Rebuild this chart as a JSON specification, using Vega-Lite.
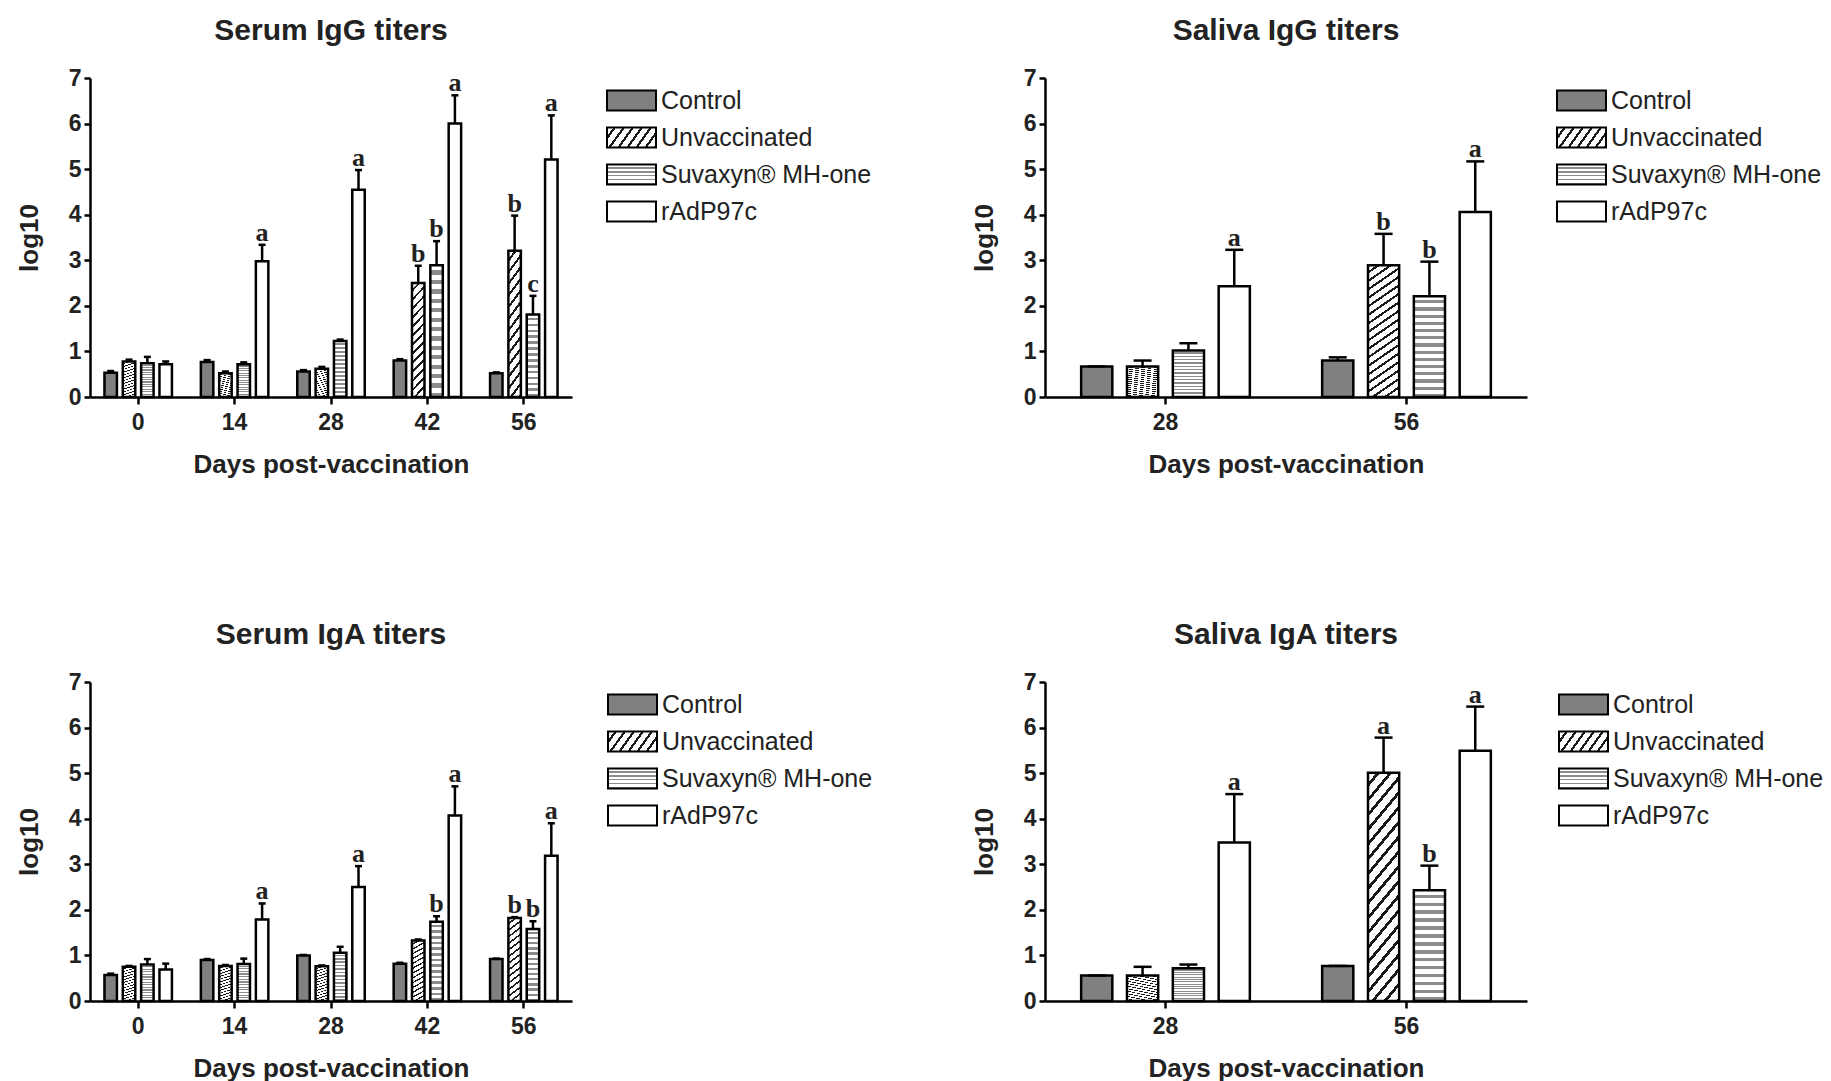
{
  "$schema": "https://vega.github.io/schema/vega-lite/v6.json",
  "background": "white",
  "padding": {"left": 16, "top": 16, "right": 5, "bottom": 5},
  "params": [
    {"name": "unvNarrow", "expr": "{gradient:'linear',x1:0,y1:0,x2:0.127,y2:1.1,stops:[{offset:0,color:'#fff'},{offset:0.05,color:'#fff'},{offset:0.05,color:'#1a1a1a'},{offset:0.0714,color:'#1a1a1a'},{offset:0.0714,color:'#fff'},{offset:0.1214,color:'#fff'},{offset:0.1214,color:'#1a1a1a'},{offset:0.1429,color:'#1a1a1a'},{offset:0.1429,color:'#fff'},{offset:0.1929,color:'#fff'},{offset:0.1929,color:'#1a1a1a'},{offset:0.2143,color:'#1a1a1a'},{offset:0.2143,color:'#fff'},{offset:0.2643,color:'#fff'},{offset:0.2643,color:'#1a1a1a'},{offset:0.2857,color:'#1a1a1a'},{offset:0.2857,color:'#fff'},{offset:0.3357,color:'#fff'},{offset:0.3357,color:'#1a1a1a'},{offset:0.3571,color:'#1a1a1a'},{offset:0.3571,color:'#fff'},{offset:0.4071,color:'#fff'},{offset:0.4071,color:'#1a1a1a'},{offset:0.4286,color:'#1a1a1a'},{offset:0.4286,color:'#fff'},{offset:0.4786,color:'#fff'},{offset:0.4786,color:'#1a1a1a'},{offset:0.5,color:'#1a1a1a'},{offset:0.5,color:'#fff'},{offset:0.55,color:'#fff'},{offset:0.55,color:'#1a1a1a'},{offset:0.5714,color:'#1a1a1a'},{offset:0.5714,color:'#fff'},{offset:0.6214,color:'#fff'},{offset:0.6214,color:'#1a1a1a'},{offset:0.6429,color:'#1a1a1a'},{offset:0.6429,color:'#fff'},{offset:0.6929,color:'#fff'},{offset:0.6929,color:'#1a1a1a'},{offset:0.7143,color:'#1a1a1a'},{offset:0.7143,color:'#fff'},{offset:0.7643,color:'#fff'},{offset:0.7643,color:'#1a1a1a'},{offset:0.7857,color:'#1a1a1a'},{offset:0.7857,color:'#fff'},{offset:0.8357,color:'#fff'},{offset:0.8357,color:'#1a1a1a'},{offset:0.8571,color:'#1a1a1a'},{offset:0.8571,color:'#fff'},{offset:0.9071,color:'#fff'},{offset:0.9071,color:'#1a1a1a'},{offset:0.9286,color:'#1a1a1a'},{offset:0.9286,color:'#fff'},{offset:0.9786,color:'#fff'},{offset:0.9786,color:'#1a1a1a'},{offset:1,color:'#1a1a1a'}]}"},
    {"name": "unvWide", "expr": "{gradient:'linear',x1:0,y1:0,x2:0.185,y2:1.133,stops:[{offset:0,color:'#fff'},{offset:0.0389,color:'#fff'},{offset:0.0389,color:'#1a1a1a'},{offset:0.0556,color:'#1a1a1a'},{offset:0.0556,color:'#fff'},{offset:0.0944,color:'#fff'},{offset:0.0944,color:'#1a1a1a'},{offset:0.1111,color:'#1a1a1a'},{offset:0.1111,color:'#fff'},{offset:0.15,color:'#fff'},{offset:0.15,color:'#1a1a1a'},{offset:0.1667,color:'#1a1a1a'},{offset:0.1667,color:'#fff'},{offset:0.2056,color:'#fff'},{offset:0.2056,color:'#1a1a1a'},{offset:0.2222,color:'#1a1a1a'},{offset:0.2222,color:'#fff'},{offset:0.2611,color:'#fff'},{offset:0.2611,color:'#1a1a1a'},{offset:0.2778,color:'#1a1a1a'},{offset:0.2778,color:'#fff'},{offset:0.3167,color:'#fff'},{offset:0.3167,color:'#1a1a1a'},{offset:0.3333,color:'#1a1a1a'},{offset:0.3333,color:'#fff'},{offset:0.3722,color:'#fff'},{offset:0.3722,color:'#1a1a1a'},{offset:0.3889,color:'#1a1a1a'},{offset:0.3889,color:'#fff'},{offset:0.4278,color:'#fff'},{offset:0.4278,color:'#1a1a1a'},{offset:0.4444,color:'#1a1a1a'},{offset:0.4444,color:'#fff'},{offset:0.4833,color:'#fff'},{offset:0.4833,color:'#1a1a1a'},{offset:0.5,color:'#1a1a1a'},{offset:0.5,color:'#fff'},{offset:0.5389,color:'#fff'},{offset:0.5389,color:'#1a1a1a'},{offset:0.5556,color:'#1a1a1a'},{offset:0.5556,color:'#fff'},{offset:0.5944,color:'#fff'},{offset:0.5944,color:'#1a1a1a'},{offset:0.6111,color:'#1a1a1a'},{offset:0.6111,color:'#fff'},{offset:0.65,color:'#fff'},{offset:0.65,color:'#1a1a1a'},{offset:0.6667,color:'#1a1a1a'},{offset:0.6667,color:'#fff'},{offset:0.7056,color:'#fff'},{offset:0.7056,color:'#1a1a1a'},{offset:0.7222,color:'#1a1a1a'},{offset:0.7222,color:'#fff'},{offset:0.7611,color:'#fff'},{offset:0.7611,color:'#1a1a1a'},{offset:0.7778,color:'#1a1a1a'},{offset:0.7778,color:'#fff'},{offset:0.8167,color:'#fff'},{offset:0.8167,color:'#1a1a1a'},{offset:0.8333,color:'#1a1a1a'},{offset:0.8333,color:'#fff'},{offset:0.8722,color:'#fff'},{offset:0.8722,color:'#1a1a1a'},{offset:0.8889,color:'#1a1a1a'},{offset:0.8889,color:'#fff'},{offset:0.9278,color:'#fff'},{offset:0.9278,color:'#1a1a1a'},{offset:0.9444,color:'#1a1a1a'},{offset:0.9444,color:'#fff'},{offset:0.9833,color:'#fff'},{offset:0.9833,color:'#1a1a1a'},{offset:1,color:'#1a1a1a'}]}"},
    {"name": "suvFill", "expr": "{gradient:'linear',x1:0,y1:0,x2:0,y2:1,stops:[{offset:0,color:'#fff'},{offset:0.0393,color:'#fff'},{offset:0.0393,color:'#8c8c8c'},{offset:0.0714,color:'#8c8c8c'},{offset:0.0714,color:'#fff'},{offset:0.1107,color:'#fff'},{offset:0.1107,color:'#8c8c8c'},{offset:0.1429,color:'#8c8c8c'},{offset:0.1429,color:'#fff'},{offset:0.1821,color:'#fff'},{offset:0.1821,color:'#8c8c8c'},{offset:0.2143,color:'#8c8c8c'},{offset:0.2143,color:'#fff'},{offset:0.2536,color:'#fff'},{offset:0.2536,color:'#8c8c8c'},{offset:0.2857,color:'#8c8c8c'},{offset:0.2857,color:'#fff'},{offset:0.325,color:'#fff'},{offset:0.325,color:'#8c8c8c'},{offset:0.3571,color:'#8c8c8c'},{offset:0.3571,color:'#fff'},{offset:0.3964,color:'#fff'},{offset:0.3964,color:'#8c8c8c'},{offset:0.4286,color:'#8c8c8c'},{offset:0.4286,color:'#fff'},{offset:0.4679,color:'#fff'},{offset:0.4679,color:'#8c8c8c'},{offset:0.5,color:'#8c8c8c'},{offset:0.5,color:'#fff'},{offset:0.5393,color:'#fff'},{offset:0.5393,color:'#8c8c8c'},{offset:0.5714,color:'#8c8c8c'},{offset:0.5714,color:'#fff'},{offset:0.6107,color:'#fff'},{offset:0.6107,color:'#8c8c8c'},{offset:0.6429,color:'#8c8c8c'},{offset:0.6429,color:'#fff'},{offset:0.6821,color:'#fff'},{offset:0.6821,color:'#8c8c8c'},{offset:0.7143,color:'#8c8c8c'},{offset:0.7143,color:'#fff'},{offset:0.7536,color:'#fff'},{offset:0.7536,color:'#8c8c8c'},{offset:0.7857,color:'#8c8c8c'},{offset:0.7857,color:'#fff'},{offset:0.825,color:'#fff'},{offset:0.825,color:'#8c8c8c'},{offset:0.8571,color:'#8c8c8c'},{offset:0.8571,color:'#fff'},{offset:0.8964,color:'#fff'},{offset:0.8964,color:'#8c8c8c'},{offset:0.9286,color:'#8c8c8c'},{offset:0.9286,color:'#fff'},{offset:0.9679,color:'#fff'},{offset:0.9679,color:'#8c8c8c'},{offset:1,color:'#8c8c8c'}]}"},
    {"name": "legUnv", "expr": "{gradient:'linear',x1:0,y1:0,x2:1.19,y2:0.347,stops:[{offset:0,color:'#fff'},{offset:0.1,color:'#fff'},{offset:0.1,color:'#1a1a1a'},{offset:0.1429,color:'#1a1a1a'},{offset:0.1429,color:'#fff'},{offset:0.2429,color:'#fff'},{offset:0.2429,color:'#1a1a1a'},{offset:0.2857,color:'#1a1a1a'},{offset:0.2857,color:'#fff'},{offset:0.3857,color:'#fff'},{offset:0.3857,color:'#1a1a1a'},{offset:0.4286,color:'#1a1a1a'},{offset:0.4286,color:'#fff'},{offset:0.5286,color:'#fff'},{offset:0.5286,color:'#1a1a1a'},{offset:0.5714,color:'#1a1a1a'},{offset:0.5714,color:'#fff'},{offset:0.6714,color:'#fff'},{offset:0.6714,color:'#1a1a1a'},{offset:0.7143,color:'#1a1a1a'},{offset:0.7143,color:'#fff'},{offset:0.8143,color:'#fff'},{offset:0.8143,color:'#1a1a1a'},{offset:0.8571,color:'#1a1a1a'},{offset:0.8571,color:'#fff'},{offset:0.9571,color:'#fff'},{offset:0.9571,color:'#1a1a1a'},{offset:1,color:'#1a1a1a'}]}"},
    {"name": "suvLeg", "expr": "{gradient:'linear',x1:0,y1:0,x2:0,y2:1,stops:[{offset:0,color:'#fff'},{offset:0.11,color:'#fff'},{offset:0.11,color:'#8c8c8c'},{offset:0.2,color:'#8c8c8c'},{offset:0.2,color:'#fff'},{offset:0.31,color:'#fff'},{offset:0.31,color:'#8c8c8c'},{offset:0.4,color:'#8c8c8c'},{offset:0.4,color:'#fff'},{offset:0.51,color:'#fff'},{offset:0.51,color:'#8c8c8c'},{offset:0.6,color:'#8c8c8c'},{offset:0.6,color:'#fff'},{offset:0.71,color:'#fff'},{offset:0.71,color:'#8c8c8c'},{offset:0.8,color:'#8c8c8c'},{offset:0.8,color:'#fff'},{offset:0.91,color:'#fff'},{offset:0.91,color:'#8c8c8c'},{offset:1,color:'#8c8c8c'}]}"}
  ],
  "data": {"values": [
    {"panel": "Serum IgG", "day": "0", "group": "Control", "value": 0.53, "upper": 0.57, "letter": ""},
    {"panel": "Serum IgG", "day": "0", "group": "Unvaccinated", "value": 0.78, "upper": 0.82, "letter": ""},
    {"panel": "Serum IgG", "day": "0", "group": "Suvaxyn® MH-one", "value": 0.74, "upper": 0.88, "letter": ""},
    {"panel": "Serum IgG", "day": "0", "group": "rAdP97c", "value": 0.72, "upper": 0.78, "letter": ""},
    {"panel": "Serum IgG", "day": "14", "group": "Control", "value": 0.77, "upper": 0.81, "letter": ""},
    {"panel": "Serum IgG", "day": "14", "group": "Unvaccinated", "value": 0.52, "upper": 0.56, "letter": ""},
    {"panel": "Serum IgG", "day": "14", "group": "Suvaxyn® MH-one", "value": 0.72, "upper": 0.76, "letter": ""},
    {"panel": "Serum IgG", "day": "14", "group": "rAdP97c", "value": 2.98, "upper": 3.34, "letter": "a"},
    {"panel": "Serum IgG", "day": "28", "group": "Control", "value": 0.56, "upper": 0.59, "letter": ""},
    {"panel": "Serum IgG", "day": "28", "group": "Unvaccinated", "value": 0.62, "upper": 0.66, "letter": ""},
    {"panel": "Serum IgG", "day": "28", "group": "Suvaxyn® MH-one", "value": 1.23, "upper": 1.26, "letter": ""},
    {"panel": "Serum IgG", "day": "28", "group": "rAdP97c", "value": 4.55, "upper": 4.98, "letter": "a"},
    {"panel": "Serum IgG", "day": "42", "group": "Control", "value": 0.8, "upper": 0.83, "letter": ""},
    {"panel": "Serum IgG", "day": "42", "group": "Unvaccinated", "value": 2.5, "upper": 2.88, "letter": "b"},
    {"panel": "Serum IgG", "day": "42", "group": "Suvaxyn® MH-one", "value": 2.89, "upper": 3.42, "letter": "b"},
    {"panel": "Serum IgG", "day": "42", "group": "rAdP97c", "value": 6.0, "upper": 6.62, "letter": "a"},
    {"panel": "Serum IgG", "day": "56", "group": "Control", "value": 0.52, "upper": 0.54, "letter": ""},
    {"panel": "Serum IgG", "day": "56", "group": "Unvaccinated", "value": 3.21, "upper": 3.98, "letter": "b"},
    {"panel": "Serum IgG", "day": "56", "group": "Suvaxyn® MH-one", "value": 1.81, "upper": 2.22, "letter": "c"},
    {"panel": "Serum IgG", "day": "56", "group": "rAdP97c", "value": 5.21, "upper": 6.18, "letter": "a"},
    {"panel": "Saliva IgG", "day": "28", "group": "Control", "value": 0.67, "upper": 0.67, "letter": ""},
    {"panel": "Saliva IgG", "day": "28", "group": "Unvaccinated", "value": 0.67, "upper": 0.8, "letter": ""},
    {"panel": "Saliva IgG", "day": "28", "group": "Suvaxyn® MH-one", "value": 1.02, "upper": 1.18, "letter": ""},
    {"panel": "Saliva IgG", "day": "28", "group": "rAdP97c", "value": 2.43, "upper": 3.23, "letter": "a"},
    {"panel": "Saliva IgG", "day": "56", "group": "Control", "value": 0.8, "upper": 0.87, "letter": ""},
    {"panel": "Saliva IgG", "day": "56", "group": "Unvaccinated", "value": 2.89, "upper": 3.58, "letter": "b"},
    {"panel": "Saliva IgG", "day": "56", "group": "Suvaxyn® MH-one", "value": 2.21, "upper": 2.97, "letter": "b"},
    {"panel": "Saliva IgG", "day": "56", "group": "rAdP97c", "value": 4.06, "upper": 5.17, "letter": "a"},
    {"panel": "Serum IgA", "day": "0", "group": "Control", "value": 0.57, "upper": 0.6, "letter": ""},
    {"panel": "Serum IgA", "day": "0", "group": "Unvaccinated", "value": 0.75, "upper": 0.77, "letter": ""},
    {"panel": "Serum IgA", "day": "0", "group": "Suvaxyn® MH-one", "value": 0.8, "upper": 0.92, "letter": ""},
    {"panel": "Serum IgA", "day": "0", "group": "rAdP97c", "value": 0.69, "upper": 0.82, "letter": ""},
    {"panel": "Serum IgA", "day": "14", "group": "Control", "value": 0.9, "upper": 0.92, "letter": ""},
    {"panel": "Serum IgA", "day": "14", "group": "Unvaccinated", "value": 0.77, "upper": 0.79, "letter": ""},
    {"panel": "Serum IgA", "day": "14", "group": "Suvaxyn® MH-one", "value": 0.81, "upper": 0.93, "letter": ""},
    {"panel": "Serum IgA", "day": "14", "group": "rAdP97c", "value": 1.79, "upper": 2.14, "letter": "a"},
    {"panel": "Serum IgA", "day": "28", "group": "Control", "value": 1.0, "upper": 1.01, "letter": ""},
    {"panel": "Serum IgA", "day": "28", "group": "Unvaccinated", "value": 0.76, "upper": 0.78, "letter": ""},
    {"panel": "Serum IgA", "day": "28", "group": "Suvaxyn® MH-one", "value": 1.06, "upper": 1.19, "letter": ""},
    {"panel": "Serum IgA", "day": "28", "group": "rAdP97c", "value": 2.5, "upper": 2.96, "letter": "a"},
    {"panel": "Serum IgA", "day": "42", "group": "Control", "value": 0.82, "upper": 0.84, "letter": ""},
    {"panel": "Serum IgA", "day": "42", "group": "Unvaccinated", "value": 1.33, "upper": 1.35, "letter": ""},
    {"panel": "Serum IgA", "day": "42", "group": "Suvaxyn® MH-one", "value": 1.74, "upper": 1.86, "letter": "b"},
    {"panel": "Serum IgA", "day": "42", "group": "rAdP97c", "value": 4.07, "upper": 4.71, "letter": "a"},
    {"panel": "Serum IgA", "day": "56", "group": "Control", "value": 0.92, "upper": 0.93, "letter": ""},
    {"panel": "Serum IgA", "day": "56", "group": "Unvaccinated", "value": 1.82, "upper": 1.84, "letter": "b"},
    {"panel": "Serum IgA", "day": "56", "group": "Suvaxyn® MH-one", "value": 1.58, "upper": 1.75, "letter": "b"},
    {"panel": "Serum IgA", "day": "56", "group": "rAdP97c", "value": 3.19, "upper": 3.9, "letter": "a"},
    {"panel": "Saliva IgA", "day": "28", "group": "Control", "value": 0.56, "upper": 0.56, "letter": ""},
    {"panel": "Saliva IgA", "day": "28", "group": "Unvaccinated", "value": 0.56, "upper": 0.75, "letter": ""},
    {"panel": "Saliva IgA", "day": "28", "group": "Suvaxyn® MH-one", "value": 0.72, "upper": 0.8, "letter": ""},
    {"panel": "Saliva IgA", "day": "28", "group": "rAdP97c", "value": 3.48, "upper": 4.54, "letter": "a"},
    {"panel": "Saliva IgA", "day": "56", "group": "Control", "value": 0.77, "upper": 0.77, "letter": ""},
    {"panel": "Saliva IgA", "day": "56", "group": "Unvaccinated", "value": 5.01, "upper": 5.78, "letter": "a"},
    {"panel": "Saliva IgA", "day": "56", "group": "Suvaxyn® MH-one", "value": 2.43, "upper": 2.97, "letter": "b"},
    {"panel": "Saliva IgA", "day": "56", "group": "rAdP97c", "value": 5.49, "upper": 6.46, "letter": "a"}
  ]},
  "columns": 2,
  "spacing": {"row": 143, "column": 94},
  "resolve": {
    "scale": {"x": "independent", "y": "independent", "xOffset": "independent", "fill": "independent"},
    "legend": {"fill": "independent"}
  },
  "concat": [
    {
      "width": 482, "height": 319,
      "title": "Serum IgG titers",
      "transform": [{"filter": "datum.panel === 'Serum IgG'"}],
      "resolve": {"scale": {"fill": "independent"}, "legend": {"fill": "independent"}},
      "encoding": {
        "x": {"field": "day", "type": "ordinal", "sort": ["0", "14", "28", "42", "56"], "title": "Days post-vaccination", "scale": {"paddingInner": 0.3, "paddingOuter": 0.15}},
        "xOffset": {"field": "group", "type": "nominal", "scale": {"domain": ["Control", "Unvaccinated", "Suvaxyn® MH-one", "rAdP97c"], "paddingInner": 0.32, "paddingOuter": 0}}
      },
      "layer": [
        {"mark": {"type": "bar", "stroke": "black", "strokeWidth": 2.5, "opacity": 1},
         "encoding": {
           "y": {"field": "value", "type": "quantitative", "title": "log10", "scale": {"domain": [0, 7], "nice": false}, "axis": {"values": [0, 1, 2, 3, 4, 5, 6, 7]}},
           "fill": {"field": "group", "type": "nominal", "legend": null,
             "scale": {"domain": ["Control", "Unvaccinated", "Suvaxyn® MH-one", "rAdP97c"], "range": ["#808080", {"expr": "unvNarrow"}, {"expr": "suvFill"}, "#ffffff"]}}
         }},
        {"transform": [{"filter": "false"}],
         "mark": {"type": "bar", "stroke": "black", "strokeWidth": 2, "opacity": 1},
         "encoding": {
           "fill": {"field": "group", "type": "nominal", "legend": {"title": null, "offset": 37},
             "scale": {"domain": ["Control", "Unvaccinated", "Suvaxyn® MH-one", "rAdP97c"], "range": ["#808080", {"expr": "legUnv"}, {"expr": "suvLeg"}, "#ffffff"]}}
         }},
        {"mark": {"type": "rule", "color": "black", "strokeWidth": 2.5, "opacity": 1},
         "encoding": {"y": {"field": "value", "type": "quantitative", "title": "log10"}, "y2": {"field": "upper"}}},
        {"mark": {"type": "tick", "orient": "horizontal", "color": "black", "size": 7, "thickness": 2.5, "opacity": 1},
         "encoding": {"y": {"field": "upper", "type": "quantitative", "title": "log10"}}},
        {"mark": {"type": "text", "font": "Liberation Serif", "fontWeight": "bold", "fontSize": 26, "baseline": "alphabetic", "dy": -4, "color": "#222"},
         "encoding": {"y": {"field": "upper", "type": "quantitative", "title": "log10"}, "text": {"field": "letter"}}}
      ]
    },
    {
      "width": 482, "height": 319,
      "title": "Saliva IgG titers",
      "transform": [{"filter": "datum.panel === 'Saliva IgG'"}],
      "resolve": {"scale": {"fill": "independent"}, "legend": {"fill": "independent"}},
      "encoding": {
        "x": {"field": "day", "type": "ordinal", "sort": ["28", "56"], "title": "Days post-vaccination", "scale": {"paddingInner": 0.3, "paddingOuter": 0.15}},
        "xOffset": {"field": "group", "type": "nominal", "scale": {"domain": ["Control", "Unvaccinated", "Suvaxyn® MH-one", "rAdP97c"], "paddingInner": 0.32, "paddingOuter": 0}}
      },
      "layer": [
        {"mark": {"type": "bar", "stroke": "black", "strokeWidth": 2.5, "opacity": 1},
         "encoding": {
           "y": {"field": "value", "type": "quantitative", "title": "log10", "scale": {"domain": [0, 7], "nice": false}, "axis": {"values": [0, 1, 2, 3, 4, 5, 6, 7]}},
           "fill": {"field": "group", "type": "nominal", "legend": null,
             "scale": {"domain": ["Control", "Unvaccinated", "Suvaxyn® MH-one", "rAdP97c"], "range": ["#808080", {"expr": "unvWide"}, {"expr": "suvFill"}, "#ffffff"]}}
         }},
        {"transform": [{"filter": "false"}],
         "mark": {"type": "bar", "stroke": "black", "strokeWidth": 2, "opacity": 1},
         "encoding": {
           "fill": {"field": "group", "type": "nominal", "legend": {"title": null, "offset": 32},
             "scale": {"domain": ["Control", "Unvaccinated", "Suvaxyn® MH-one", "rAdP97c"], "range": ["#808080", {"expr": "legUnv"}, {"expr": "suvLeg"}, "#ffffff"]}}
         }},
        {"mark": {"type": "rule", "color": "black", "strokeWidth": 2.5, "opacity": 1},
         "encoding": {"y": {"field": "value", "type": "quantitative", "title": "log10"}, "y2": {"field": "upper"}}},
        {"mark": {"type": "tick", "orient": "horizontal", "color": "black", "size": 18, "thickness": 2.5, "opacity": 1},
         "encoding": {"y": {"field": "upper", "type": "quantitative", "title": "log10"}}},
        {"mark": {"type": "text", "font": "Liberation Serif", "fontWeight": "bold", "fontSize": 26, "baseline": "alphabetic", "dy": -4, "color": "#222"},
         "encoding": {"y": {"field": "upper", "type": "quantitative", "title": "log10"}, "text": {"field": "letter"}}}
      ]
    },
    {
      "width": 482, "height": 319,
      "title": "Serum IgA titers",
      "transform": [{"filter": "datum.panel === 'Serum IgA'"}],
      "resolve": {"scale": {"fill": "independent"}, "legend": {"fill": "independent"}},
      "encoding": {
        "x": {"field": "day", "type": "ordinal", "sort": ["0", "14", "28", "42", "56"], "title": "Days post-vaccination", "scale": {"paddingInner": 0.3, "paddingOuter": 0.15}},
        "xOffset": {"field": "group", "type": "nominal", "scale": {"domain": ["Control", "Unvaccinated", "Suvaxyn® MH-one", "rAdP97c"], "paddingInner": 0.32, "paddingOuter": 0}}
      },
      "layer": [
        {"mark": {"type": "bar", "stroke": "black", "strokeWidth": 2.5, "opacity": 1},
         "encoding": {
           "y": {"field": "value", "type": "quantitative", "title": "log10", "scale": {"domain": [0, 7], "nice": false}, "axis": {"values": [0, 1, 2, 3, 4, 5, 6, 7]}},
           "fill": {"field": "group", "type": "nominal", "legend": null,
             "scale": {"domain": ["Control", "Unvaccinated", "Suvaxyn® MH-one", "rAdP97c"], "range": ["#808080", {"expr": "unvNarrow"}, {"expr": "suvFill"}, "#ffffff"]}}
         }},
        {"transform": [{"filter": "false"}],
         "mark": {"type": "bar", "stroke": "black", "strokeWidth": 2, "opacity": 1},
         "encoding": {
           "fill": {"field": "group", "type": "nominal", "legend": {"title": null, "offset": 38},
             "scale": {"domain": ["Control", "Unvaccinated", "Suvaxyn® MH-one", "rAdP97c"], "range": ["#808080", {"expr": "legUnv"}, {"expr": "suvLeg"}, "#ffffff"]}}
         }},
        {"mark": {"type": "rule", "color": "black", "strokeWidth": 2.5, "opacity": 1},
         "encoding": {"y": {"field": "value", "type": "quantitative", "title": "log10"}, "y2": {"field": "upper"}}},
        {"mark": {"type": "tick", "orient": "horizontal", "color": "black", "size": 7, "thickness": 2.5, "opacity": 1},
         "encoding": {"y": {"field": "upper", "type": "quantitative", "title": "log10"}}},
        {"mark": {"type": "text", "font": "Liberation Serif", "fontWeight": "bold", "fontSize": 26, "baseline": "alphabetic", "dy": -4, "color": "#222"},
         "encoding": {"y": {"field": "upper", "type": "quantitative", "title": "log10"}, "text": {"field": "letter"}}}
      ]
    },
    {
      "width": 482, "height": 319,
      "title": "Saliva IgA titers",
      "transform": [{"filter": "datum.panel === 'Saliva IgA'"}],
      "resolve": {"scale": {"fill": "independent"}, "legend": {"fill": "independent"}},
      "encoding": {
        "x": {"field": "day", "type": "ordinal", "sort": ["28", "56"], "title": "Days post-vaccination", "scale": {"paddingInner": 0.3, "paddingOuter": 0.15}},
        "xOffset": {"field": "group", "type": "nominal", "scale": {"domain": ["Control", "Unvaccinated", "Suvaxyn® MH-one", "rAdP97c"], "paddingInner": 0.32, "paddingOuter": 0}}
      },
      "layer": [
        {"mark": {"type": "bar", "stroke": "black", "strokeWidth": 2.5, "opacity": 1},
         "encoding": {
           "y": {"field": "value", "type": "quantitative", "title": "log10", "scale": {"domain": [0, 7], "nice": false}, "axis": {"values": [0, 1, 2, 3, 4, 5, 6, 7]}},
           "fill": {"field": "group", "type": "nominal", "legend": null,
             "scale": {"domain": ["Control", "Unvaccinated", "Suvaxyn® MH-one", "rAdP97c"], "range": ["#808080", {"expr": "unvWide"}, {"expr": "suvFill"}, "#ffffff"]}}
         }},
        {"transform": [{"filter": "false"}],
         "mark": {"type": "bar", "stroke": "black", "strokeWidth": 2, "opacity": 1},
         "encoding": {
           "fill": {"field": "group", "type": "nominal", "legend": {"title": null, "offset": 34},
             "scale": {"domain": ["Control", "Unvaccinated", "Suvaxyn® MH-one", "rAdP97c"], "range": ["#808080", {"expr": "legUnv"}, {"expr": "suvLeg"}, "#ffffff"]}}
         }},
        {"mark": {"type": "rule", "color": "black", "strokeWidth": 2.5, "opacity": 1},
         "encoding": {"y": {"field": "value", "type": "quantitative", "title": "log10"}, "y2": {"field": "upper"}}},
        {"mark": {"type": "tick", "orient": "horizontal", "color": "black", "size": 18, "thickness": 2.5, "opacity": 1},
         "encoding": {"y": {"field": "upper", "type": "quantitative", "title": "log10"}}},
        {"mark": {"type": "text", "font": "Liberation Serif", "fontWeight": "bold", "fontSize": 26, "baseline": "alphabetic", "dy": -4, "color": "#222"},
         "encoding": {"y": {"field": "upper", "type": "quantitative", "title": "log10"}, "text": {"field": "letter"}}}
      ]
    }
  ],
  "config": {
    "view": {"stroke": null},
    "title": {"font": "Liberation Sans", "fontSize": 30, "fontWeight": "bold", "color": "#222", "offset": 21, "anchor": "middle"},
    "axis": {"domainColor": "black", "domainWidth": 2.5, "tickColor": "black", "tickWidth": 2.5, "tickSize": 6, "grid": false,
      "labelFont": "Liberation Sans", "labelFontSize": 23, "labelFontWeight": "bold", "labelColor": "#222",
      "titleFont": "Liberation Sans", "titleFontSize": 26, "titleFontWeight": "bold", "titleColor": "#222"},
    "axisX": {"labelAngle": 0, "labelPadding": 7, "tickSize": 7, "titlePadding": 17},
    "axisY": {"labelPadding": 3, "titlePadding": 26},
    "legend": {"orient": "right", "padding": 4, "symbolType": "M-1.4,-0.57H1.4V0.57H-1.4Z", "symbolSize": 1225,
      "symbolStrokeColor": "black", "symbolStrokeWidth": 2, "labelFont": "Liberation Sans", "labelFontSize": 25, "labelColor": "#222",
      "labelOffset": 11, "rowPadding": 4, "labelLimit": 400}
  }
}
